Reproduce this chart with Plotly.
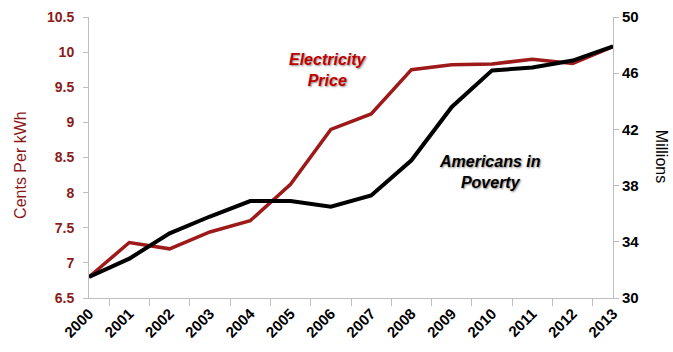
import plotly.graph_objects as go

years = ["2000", "2001", "2002", "2003", "2004", "2005", "2006",
         "2007", "2008", "2009", "2010", "2011", "2012", "2013"]
# cents per kWh (left axis)
electricity_price = [6.8, 7.29, 7.2, 7.44, 7.6, 8.12, 8.9,
                     9.12, 9.75, 9.82, 9.83, 9.9, 9.84, 10.08]
# millions of people (right axis)
poverty = [31.5, 32.8, 34.6, 35.8, 36.9, 36.9, 36.5,
           37.3, 39.8, 43.6, 46.2, 46.4, 46.9, 47.9]

dark_red = "#8B1A1A"
grey = "#BDBDBD"
font = "Liberation Sans, Arial, sans-serif"

fig = go.Figure()
fig.add_trace(go.Scatter(
    x=years, y=poverty, yaxis="y2", mode="lines",
    line=dict(color="black", width=4), name="Americans in Poverty"
))
fig.add_trace(go.Scatter(
    x=years, y=electricity_price, mode="lines",
    line=dict(color="#9E1A1A", width=3.5), name="Electricity Price"
))

fig.update_layout(
    width=673, height=352,
    margin=dict(l=89, r=60, t=17, b=54),
    paper_bgcolor="white", plot_bgcolor="white",
    showlegend=False,
    font=dict(family=font),
    xaxis=dict(
        type="category", tickson="boundaries", ticks="outside", ticklen=7,
        tickcolor=grey, showline=True, linecolor=grey, linewidth=1,
        showgrid=False, tickangle=-45, automargin=False,
        tickfont=dict(size=15, color="black", weight="bold"),
    ),
    yaxis=dict(
        range=[6.5, 10.5], dtick=0.5, ticks="outside", ticklen=5,
        tickcolor=grey, showline=True, linecolor=grey, showgrid=False,
        zeroline=False, automargin=False, ticklabelstandoff=6,
        tickfont=dict(size=14, color=dark_red, weight="bold"),
    ),
    yaxis2=dict(
        range=[30, 50], tick0=30, dtick=4, overlaying="y", side="right",
        ticks="outside", ticklen=5, tickcolor=grey, showline=True,
        linecolor=grey, showgrid=False, zeroline=False, automargin=False,
        tickfont=dict(size=15, color="black", weight="bold"),
    ),
)

shadow = "1px 1px 2px #888"
labels = [
    # text, x, y, size, colour, weight, style, angle
    ("Electricity<br>Price", 0.456, 0.811, 16, "#C00000", "bold", "italic", 0),
    ("Americans in<br>Poverty", 0.765, 0.448, 16, "black", "bold", "italic", 0),
    ("Cents Per kWh", -0.132, 0.473, 16, dark_red, "normal", "normal", -90),
    ("Millions", 1.094, 0.505, 16, "black", "normal", "normal", 90),
]
for text, x, y, size, color, weight, style, angle in labels:
    fig.add_annotation(
        xref="paper", yref="paper", x=x, y=y, xanchor="center",
        yanchor="middle", showarrow=False, text=text, textangle=angle,
        font=dict(size=size, color=color, weight=weight, style=style,
                  shadow=shadow if style == "italic" else "none"),
    )

# page body has a default 8px margin; remove it so the figure fills the window
fig.write_html("out.html", config={"displayModeBar": False},
               post_script="document.body.style.margin='0';")
